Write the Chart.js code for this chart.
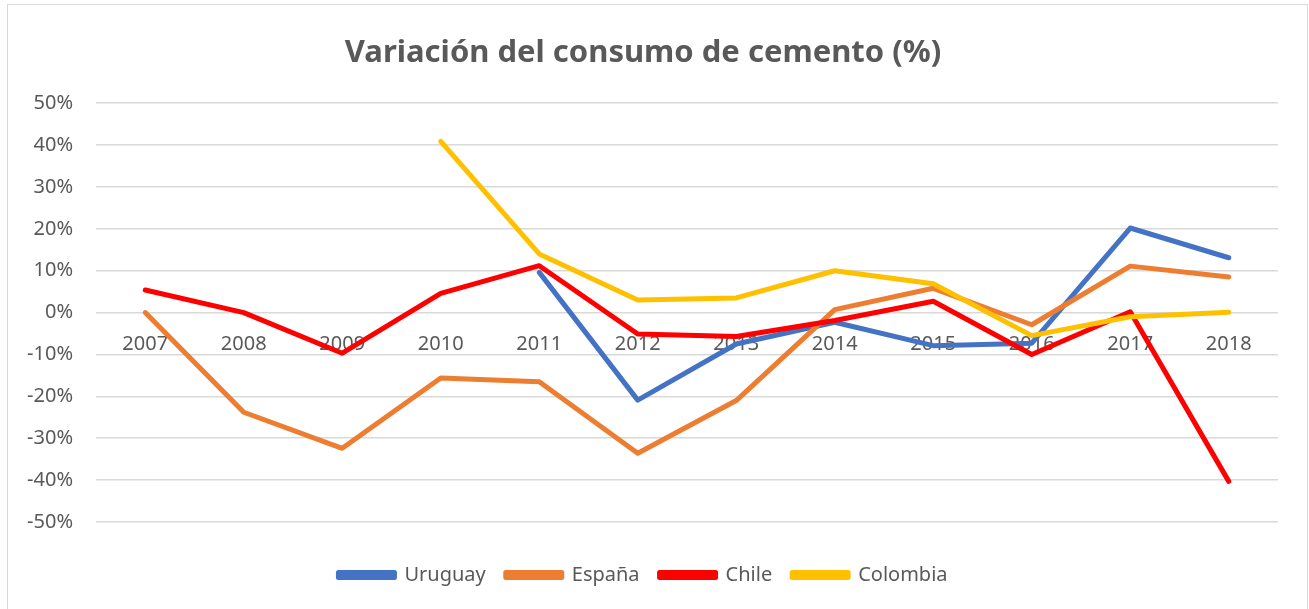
<!DOCTYPE html>
<html>
<head>
<meta charset="utf-8">
<script src="https://cdn.jsdelivr.net/npm/chart.js"></script>
<style>
  html, body { margin: 0; padding: 0; background: #fff; }
  #wrap {
    position: absolute; left: 7px; top: 4px;
    width: 1299px; height: 610px;
    border: 1px solid #d9d9d9;
  }
</style>
</head>
<body>
<div id="wrap"><canvas id="chart"></canvas></div>
<script>
// Chart values (percent)
const years = ['2007', '2008', '2009', '2010', '2011', '2012', '2013', '2014', '2015', '2016', '2017', '2018'];
const uruguay  = [null, null, null, null, 9.6, -20.9, -7.5, -2.3, -7.9, -7.3, 20.2, 13.1];
const espana   = [0, -23.8, -32.4, -15.6, -16.5, -33.6, -21.0, 0.7, 5.8, -2.9, 11.1, 8.5];
const chile    = [5.4, 0, -9.7, 4.6, 11.2, -5.1, -5.7, -1.9, 2.7, -10.0, 0.2, -40.3];
const colombia = [null, null, null, 40.9, 14.0, 3.0, 3.5, 10.0, 6.9, -5.5, -1.0, 0.1];

const grey = '#595959';
const fontFam = '"Noto Sans", "Open Sans", sans-serif';

// Excel draws the first series at the bottom; Chart.js draws lower `order` on top
function series(label, data, color, order) {
  return {
    label, data, order,
    borderColor: color,
    backgroundColor: color,
    borderWidth: 5,
    borderCapStyle: 'round',
    borderJoinStyle: 'round',
    pointRadius: 0,
    pointHoverRadius: 0,
    tension: 0,
    spanGaps: false
  };
}

new Chart(document.getElementById('chart'), {
  type: 'line',
  data: {
    labels: years,
    datasets: [
      series('Uruguay', uruguay, '#4472C4', 3),
      series('España', espana, '#ED7D31', 2),
      series('Chile', chile, '#FF0000', 1),
      series('Colombia', colombia, '#FFC000', 0)
    ]
  },
  options: {
    responsive: true,
    maintainAspectRatio: false,
    animation: false,
    layout: { padding: { left: 0, right: 29, top: 0, bottom: 20 } },
    plugins: {
      title: {
        display: true,
        text: 'Variación del consumo de cemento (%)',
        color: grey,
        font: { family: fontFam, size: 31, weight: 'bold', lineHeight: 1.2 },
        padding: { top: 30, bottom: 31 }
      },
      legend: {
        position: 'bottom',
        title: { display: true, text: ' ', font: { size: 10, lineHeight: 1 }, padding: { top: 0, bottom: 13 } },
        labels: {
          color: grey,
          font: { family: fontFam, size: 20 },
          boxWidth: 56,
          boxHeight: 5,
          padding: 20,
          sort: (a, b) => a.datasetIndex - b.datasetIndex
        }
      },
      tooltip: { enabled: false }
    },
    scales: {
      x: {
        position: { y: 0 },
        offset: true,
        grid: { display: false, drawTicks: false, offset: true },
        border: { display: false },
        ticks: {
          color: grey,
          font: { family: fontFam, size: 20 },
          padding: 20,
          maxRotation: 0,
          autoSkip: false
        }
      },
      y: {
        min: -50,
        max: 50,
        afterFit: scale => { scale.width = 88; },
        grid: { color: '#d9d9d9', lineWidth: 1.5, drawTicks: false },
        border: { display: false },
        ticks: {
          stepSize: 10,
          color: grey,
          font: { family: fontFam, size: 20 },
          padding: 23,
          callback: v => v + '%'
        }
      }
    }
  }
});
</script>
</body>
</html>
